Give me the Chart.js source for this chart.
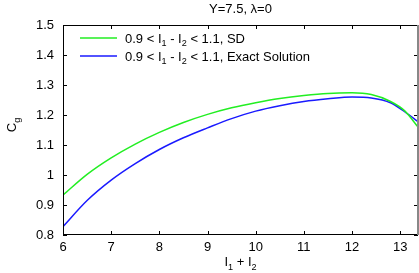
<!DOCTYPE html>
<html>
<head>
<meta charset="utf-8">
<script src="https://cdn.jsdelivr.net/npm/chart.js@4"></script>
<style>
  html, body { margin: 0; padding: 0; background: #fff; }
  #wrap { width: 419px; height: 273px; }
</style>
</head>
<body>
<div id="wrap"><canvas id="cg"></canvas></div>
<script>
// values
const xSD = [6, 6.5, 7, 7.5, 8, 8.5, 9, 9.5, 10, 10.5, 11, 11.5, 12, 12.4, 12.8, 13.1, 13.37];
const cgSD = [0.933, 1.002, 1.057, 1.103, 1.142, 1.175, 1.202, 1.224, 1.241, 1.255, 1.265, 1.272, 1.274, 1.268, 1.245, 1.213, 1.16];
const xExact = [6, 6.5, 7, 7.5, 8, 8.5, 9, 9.5, 10, 10.5, 11, 11.5, 12, 12.4, 12.8, 13.1, 13.37];
const cgExact = [0.828, 0.915, 0.983, 1.038, 1.085, 1.124, 1.157, 1.188, 1.213, 1.231, 1.245, 1.254, 1.26, 1.257, 1.241, 1.21, 1.178];
const xTicks = [6, 7, 8, 9, 10, 11, 12, 13];
const yTicks = [0.8, 0.9, 1.0, 1.1, 1.2, 1.3, 1.4, 1.5];

const FONT = "Liberation Sans, Arial, sans-serif";

function pts(xs, ys) {
  return xs.map((x, i) => ({ x: x, y: ys[i] }));
}

// draws text with subscript pieces, e.g. [["I"],["1",true]]
function richWidth(ctx, parts, size) {
  let w = 0;
  parts.forEach(p => {
    ctx.font = (p[1] ? size * 0.7 : size) + "px " + FONT;
    w += ctx.measureText(p[0]).width;
  });
  return w;
}
function drawRich(ctx, parts, x, y, size) {
  parts.forEach(p => {
    ctx.font = (p[1] ? size * 0.7 : size) + "px " + FONT;
    ctx.fillText(p[0], x, p[1] ? y + size * 0.3 : y);
    x += ctx.measureText(p[0]).width;
  });
}

const legendParts = [
  [["0.9 < I"], ["1", true], [" - I"], ["2", true], [" < 1.1, SD"]],
  [["0.9 < I"], ["1", true], [" - I"], ["2", true], [" < 1.1, Exact Solution"]]
];

const framePlugin = {
  id: "frame",
  afterDraw(chart) {
    const ctx = chart.ctx;
    const a = chart.chartArea;
    const xs = chart.scales.x, ys = chart.scales.y;
    ctx.save();
    ctx.fillStyle = "#000";
    ctx.textBaseline = "alphabetic";

    // frame + inward ticks
    ctx.strokeStyle = "#000";
    ctx.lineWidth = 1;
    ctx.beginPath();
    ctx.rect(a.left + 0.5, a.top + 0.5, a.right - a.left - 1, a.bottom - a.top - 1);
    xTicks.forEach(t => {
      const px = Math.round(xs.getPixelForValue(t)) + 0.5;
      ctx.moveTo(px, a.bottom); ctx.lineTo(px, a.bottom - 4);
      ctx.moveTo(px, a.top); ctx.lineTo(px, a.top + 4);
    });
    yTicks.forEach(t => {
      const py = Math.round(ys.getPixelForValue(t)) + 0.5;
      ctx.moveTo(a.left, py); ctx.lineTo(a.left + 4, py);
      ctx.moveTo(a.right, py); ctx.lineTo(a.right - 4, py);
    });
    ctx.stroke();
    // right edge looks grey and a bit heavier in the original
    ctx.strokeStyle = "#888";
    ctx.lineWidth = 2;
    ctx.beginPath();
    ctx.moveTo(a.right, a.top); ctx.lineTo(a.right, a.bottom);
    ctx.stroke();

    // title
    ctx.textAlign = "center";
    ctx.font = "13px " + FONT;
    ctx.fillText("Y=7.5, \u03bb=0", (a.left + a.right) / 2, 13);

    // x title
    ctx.textAlign = "left";
    const xt = [["I"], ["1", true], [" + I"], ["2", true]];
    const w = richWidth(ctx, xt, 13);
    drawRich(ctx, xt, (a.left + a.right) / 2 - w / 2, 266, 13);

    // y title
    ctx.save();
    ctx.translate(16, (a.top + a.bottom) / 2 - 5);
    ctx.rotate(-Math.PI / 2);
    const yt = [["C"], ["g", true]];
    const wy = richWidth(ctx, yt, 13);
    drawRich(ctx, yt, -wy / 2, 0, 13);
    ctx.restore();

    // legend
    chart.data.datasets.forEach((ds, i) => {
      const ly = 38 + i * 18;
      ctx.strokeStyle = ds.borderColor;
      ctx.lineWidth = 1.5;
      ctx.beginPath();
      ctx.moveTo(80, ly); ctx.lineTo(117, ly);
      ctx.stroke();
      drawRich(ctx, legendParts[i], 125, ly + 4.5, 13);
    });
    ctx.restore();
  }
};

new Chart(document.getElementById("cg"), {
  type: "line",
  data: {
    datasets: [
      {
        label: "SD",
        data: pts(xSD, cgSD),
        borderColor: "#22ee22",
        borderWidth: 1.5,
        pointRadius: 0,
        cubicInterpolationMode: "monotone",
        fill: false
      },
      {
        label: "Exact Solution",
        data: pts(xExact, cgExact),
        borderColor: "#1a1aff",
        borderWidth: 1.5,
        pointRadius: 0,
        cubicInterpolationMode: "monotone",
        fill: false
      }
    ]
  },
  options: {
    responsive: true,
    maintainAspectRatio: false,
    animation: false,
    events: [],
    layout: { padding: { top: 25, right: 1, left: 0, bottom: 0 } },
    plugins: { legend: { display: false }, tooltip: { enabled: false } },
    scales: {
      x: {
        type: "linear",
        min: 6,
        max: 13.37,
        afterBuildTicks: s => { s.ticks = xTicks.map(v => ({ value: v })); },
        afterFit: s => { s.height = 38; },
        grid: { display: false, drawTicks: false },
        border: { display: false },
        ticks: { color: "#000", font: { family: FONT, size: 13 }, padding: 5, maxRotation: 0 }
      },
      y: {
        min: 0.8,
        max: 1.5,
        afterBuildTicks: s => { s.ticks = yTicks.map(v => ({ value: v })); },
        afterFit: s => { s.width = 63; },
        grid: { display: false, drawTicks: false },
        border: { display: false },
        ticks: {
          color: "#000",
          font: { family: FONT, size: 13 },
          padding: 9,
          callback: v => String(Math.round(v * 10) / 10)
        }
      }
    }
  },
  plugins: [framePlugin]
});
</script>
</body>
</html>
